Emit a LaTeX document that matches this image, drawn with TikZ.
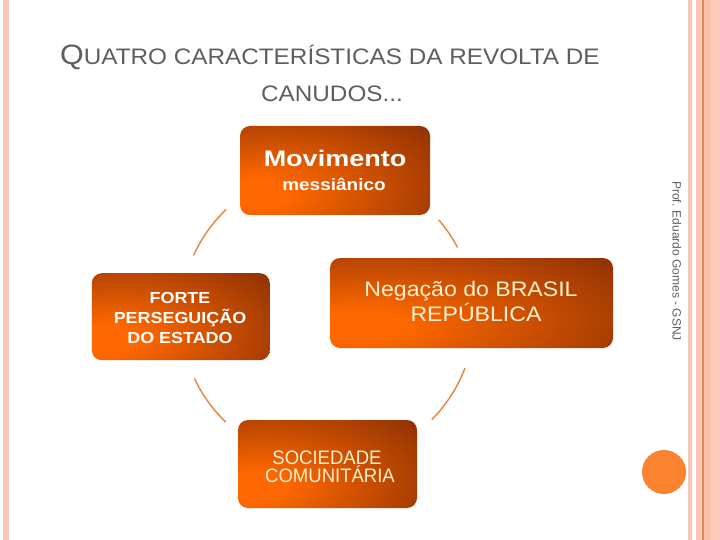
\documentclass[tikz,border=0pt]{standalone}
\usepackage{fontspec}
\setmainfont{Liberation Sans}
\newfontfamily\fttl[FakeStretch=1.085]{Liberation Sans}
\newfontfamily\fmov[FakeStretch=1.2]{Liberation Sans}
\newfontfamily\fmes[FakeStretch=1.15]{Liberation Sans}
\newfontfamily\ffor[FakeStretch=1.12]{Liberation Sans}
\newfontfamily\fneg[FakeStretch=1.1]{Liberation Sans}
\newfontfamily\fsoc[FakeStretch=0.95]{Liberation Sans}
\definecolor{ob}{RGB}{255,104,0}
\definecolor{db}{RGB}{128,42,4}
\definecolor{strip}{RGB}{248,200,182}
\definecolor{stripdark}{RGB}{224,135,90}
\definecolor{stripb}{RGB}{250,192,168}
\definecolor{stripc}{RGB}{253,202,187}
\definecolor{dotc}{RGB}{252,132,49}
\definecolor{arcc}{RGB}{232,132,58}
\definecolor{titlegray}{RGB}{92,94,98}
\definecolor{cream}{RGB}{255,240,208}
\pgfdeclareradialshading{boxshade}{\pgfpoint{-22bp}{-14bp}}{color(0bp)=(ob); color(8bp)=(ob); color(56bp)=(db); color(120bp)=(db)}
\begin{document}
\begin{tikzpicture}[x=1pt,y=-1pt,
  box/.style={rounded corners=10pt, shading=boxshade, inner sep=0pt, draw=none},
  arcline/.style={draw=arcc, line width=1.4pt},
  wtext/.style={anchor=base, text=white},
  ctext/.style={anchor=base, text=cream}]
\useasboundingbox (0,0) rectangle (720,540);
\fill[white] (0,0) rectangle (720,540);
% side strips
\fill[strip] (3,0) rectangle (9,540);
\fill[strip] (688,0) rectangle (692,540);
\fill[strip] (696,0) rectangle (702,540);
\fill[stripdark] (702,0) rectangle (703.5,540);
\fill[stripb] (703.5,0) rectangle (710,540);
\fill[stripc] (710,0) rectangle (720,540);
% title
\node[anchor=base west, text=titlegray, inner sep=0pt] (title1) at (60,64.3)
  {\fttl\fontsize{28}{30}\selectfont Q\fontsize{22.4}{26}\selectfont UATRO CARACTERÍSTICAS DA REVOLTA DE};
\node[anchor=base, text=titlegray, inner sep=0pt] (title2) at (332,101.7)
  {\fttl\fontsize{22.4}{26}\selectfont CANUDOS...};
% connecting arcs
\coordinate (c) at (327.5,316);
\draw[arcline] (c) ++(133.6:147pt) arc[start angle=133.6, end angle=155.6, radius=147pt];
\draw[arcline] (c) ++(27.8:147pt) arc[start angle=27.8, end angle=40.8, radius=147pt];
\draw[arcline] (c) ++(-44.8:147pt) arc[start angle=-44.8, end angle=-20.8, radius=147pt];
\draw[arcline] (c) ++(205:147pt) arc[start angle=205, end angle=226.2, radius=147pt];
% boxes
\node[box, minimum width=190pt, minimum height=89pt] (mov) at (335,170.5) {};
\node[box, minimum width=178pt, minimum height=87pt] (forte) at (180.8,316.7) {};
\node[box, minimum width=283pt, minimum height=90pt] (neg) at (471.5,303) {};
\node[box, minimum width=179pt, minimum height=88pt] (soc) at (327.5,464) {};
% texts
\node[wtext, font=\fmov\bfseries\fontsize{22.5}{26}\selectfont] (movt1) at (335,167) {Movimento};
\node[wtext, font=\fmes\bfseries\fontsize{16.5}{20}\selectfont] (movt2) at (334,191) {messiânico};
\node[wtext, font=\ffor\bfseries\fontsize{16}{20}\selectfont] (fot1) at (180,303) {FORTE};
\node[wtext, font=\ffor\bfseries\fontsize{16}{20}\selectfont] (fot2) at (180,323) {PERSEGUIÇÃO};
\node[wtext, font=\ffor\bfseries\fontsize{16}{20}\selectfont] (fot3) at (180,343) {DO ESTADO};
\node[ctext, font=\fneg\fontsize{21}{24}\selectfont] (negt1) at (471,296) {Negação do BRASIL};
\node[ctext, font=\fneg\fontsize{21}{24}\selectfont] (negt2) at (476,321.5) {REPÚBLICA};
\node[ctext, font=\fsoc\fontsize{19.5}{22}\selectfont] (soct1) at (327,464) {SOCIEDADE};
\node[ctext, font=\fsoc\fontsize{19.5}{22}\selectfont] (soct2) at (330,482) {COMUNITÁRIA};
% side label and dot
\node[rotate=-90, text=titlegray, font=\fontsize{12}{14}\selectfont] (prof) at (677,261) {Prof. Eduardo Gomes - GSNJ};
\node[circle, fill=dotc, minimum size=44pt, inner sep=0pt] (dot) at (664,472) {};
\end{tikzpicture}
\end{document}
